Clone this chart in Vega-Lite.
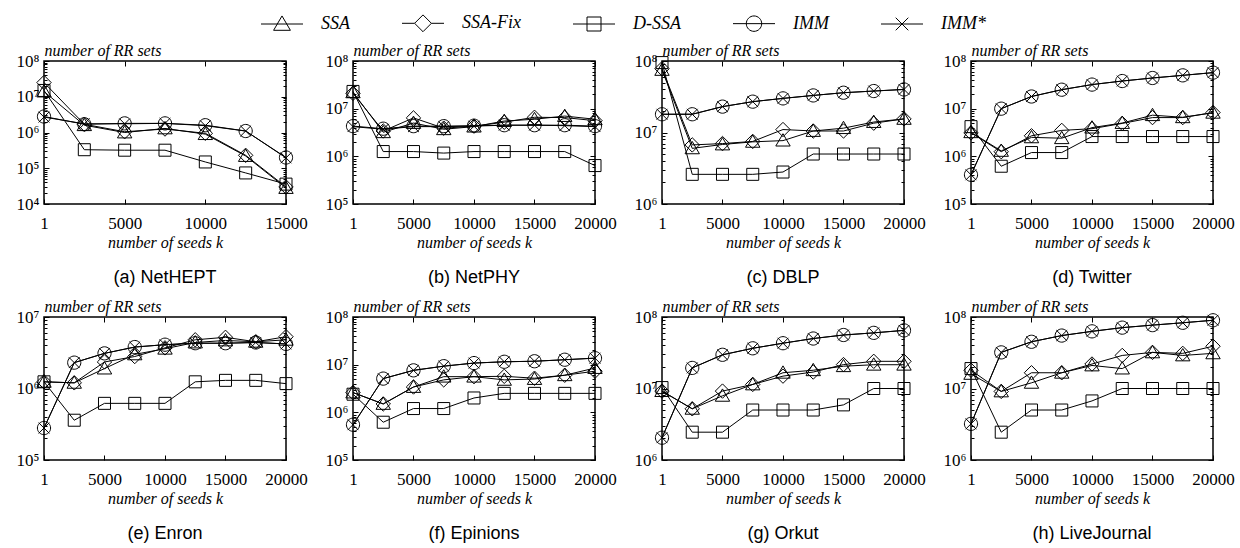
{
"$schema": "https://vega.github.io/schema/vega-lite/v6.json",
"background": "white",
"padding": {"left": 15, "top": 14, "right": 5, "bottom": 0},
"autosize": {"type": "pad"},
"datasets": {"rr": [
{"p":"a","k":1,"s":"SSA","v":1.4e7},{"p":"a","k":2500,"s":"SSA","v":1.6e6},{"p":"a","k":5000,"s":"SSA","v":1.0e6},{"p":"a","k":7500,"s":"SSA","v":1.3e6},{"p":"a","k":10000,"s":"SSA","v":9.0e5},{"p":"a","k":12500,"s":"SSA","v":2.2e5},{"p":"a","k":15000,"s":"SSA","v":2.8e4},
{"p":"a","k":1,"s":"SSA-Fix","v":2.5e7},{"p":"a","k":2500,"s":"SSA-Fix","v":1.7e6},{"p":"a","k":5000,"s":"SSA-Fix","v":1.05e6},{"p":"a","k":7500,"s":"SSA-Fix","v":1.25e6},{"p":"a","k":10000,"s":"SSA-Fix","v":9.5e5},{"p":"a","k":12500,"s":"SSA-Fix","v":2.3e5},{"p":"a","k":15000,"s":"SSA-Fix","v":3.0e4},
{"p":"a","k":1,"s":"D-SSA","v":1.5e7},{"p":"a","k":2500,"s":"D-SSA","v":3.3e5},{"p":"a","k":5000,"s":"D-SSA","v":3.2e5},{"p":"a","k":7500,"s":"D-SSA","v":3.2e5},{"p":"a","k":10000,"s":"D-SSA","v":1.5e5},{"p":"a","k":12500,"s":"D-SSA","v":7.4e4},{"p":"a","k":15000,"s":"D-SSA","v":3.6e4},
{"p":"a","k":1,"s":"IMM","v":2.8e6},{"p":"a","k":2500,"s":"IMM","v":1.7e6},{"p":"a","k":5000,"s":"IMM","v":1.8e6},{"p":"a","k":7500,"s":"IMM","v":1.8e6},{"p":"a","k":10000,"s":"IMM","v":1.6e6},{"p":"a","k":12500,"s":"IMM","v":1.1e6},{"p":"a","k":15000,"s":"IMM","v":2.0e5},
{"p":"a","k":1,"s":"IMM*","v":2.7e6},{"p":"a","k":2500,"s":"IMM*","v":1.75e6},{"p":"a","k":5000,"s":"IMM*","v":1.75e6},{"p":"a","k":7500,"s":"IMM*","v":1.8e6},{"p":"a","k":10000,"s":"IMM*","v":1.55e6},{"p":"a","k":12500,"s":"IMM*","v":1.1e6},{"p":"a","k":15000,"s":"IMM*","v":1.95e5},
{"p":"b","k":1,"s":"SSA","v":2.2e7},{"p":"b","k":2500,"s":"SSA","v":3.2e6},{"p":"b","k":5000,"s":"SSA","v":5.0e6},{"p":"b","k":7500,"s":"SSA","v":3.7e6},{"p":"b","k":10000,"s":"SSA","v":4.2e6},{"p":"b","k":12500,"s":"SSA","v":5.5e6},{"p":"b","k":15000,"s":"SSA","v":6.0e6},{"p":"b","k":17500,"s":"SSA","v":7.0e6},{"p":"b","k":20000,"s":"SSA","v":6.0e6},
{"p":"b","k":1,"s":"SSA-Fix","v":2.1e7},{"p":"b","k":2500,"s":"SSA-Fix","v":3.4e6},{"p":"b","k":5000,"s":"SSA-Fix","v":6.4e6},{"p":"b","k":7500,"s":"SSA-Fix","v":3.9e6},{"p":"b","k":10000,"s":"SSA-Fix","v":4.3e6},{"p":"b","k":12500,"s":"SSA-Fix","v":5.2e6},{"p":"b","k":15000,"s":"SSA-Fix","v":6.6e6},{"p":"b","k":17500,"s":"SSA-Fix","v":6.5e6},{"p":"b","k":20000,"s":"SSA-Fix","v":5.6e6},
{"p":"b","k":1,"s":"D-SSA","v":2.3e7},{"p":"b","k":2500,"s":"D-SSA","v":1.26e6},{"p":"b","k":5000,"s":"D-SSA","v":1.26e6},{"p":"b","k":7500,"s":"D-SSA","v":1.17e6},{"p":"b","k":10000,"s":"D-SSA","v":1.26e6},{"p":"b","k":12500,"s":"D-SSA","v":1.26e6},{"p":"b","k":15000,"s":"D-SSA","v":1.26e6},{"p":"b","k":17500,"s":"D-SSA","v":1.26e6},{"p":"b","k":20000,"s":"D-SSA","v":6.4e5},
{"p":"b","k":1,"s":"IMM","v":4.3e6},{"p":"b","k":2500,"s":"IMM","v":3.8e6},{"p":"b","k":5000,"s":"IMM","v":4.3e6},{"p":"b","k":7500,"s":"IMM","v":4.3e6},{"p":"b","k":10000,"s":"IMM","v":4.4e6},{"p":"b","k":12500,"s":"IMM","v":4.5e6},{"p":"b","k":15000,"s":"IMM","v":4.5e6},{"p":"b","k":17500,"s":"IMM","v":4.5e6},{"p":"b","k":20000,"s":"IMM","v":4.3e6},
{"p":"b","k":1,"s":"IMM*","v":4.2e6},{"p":"b","k":2500,"s":"IMM*","v":3.7e6},{"p":"b","k":5000,"s":"IMM*","v":4.2e6},{"p":"b","k":7500,"s":"IMM*","v":4.2e6},{"p":"b","k":10000,"s":"IMM*","v":4.3e6},{"p":"b","k":12500,"s":"IMM*","v":4.5e6},{"p":"b","k":15000,"s":"IMM*","v":4.5e6},{"p":"b","k":17500,"s":"IMM*","v":4.4e6},{"p":"b","k":20000,"s":"IMM*","v":4.2e6},
{"p":"c","k":1,"s":"SSA","v":7.5e7},{"p":"c","k":2500,"s":"SSA","v":6.0e6},{"p":"c","k":5000,"s":"SSA","v":6.8e6},{"p":"c","k":7500,"s":"SSA","v":7.4e6},{"p":"c","k":10000,"s":"SSA","v":7.7e6},{"p":"c","k":12500,"s":"SSA","v":1.05e7},{"p":"c","k":15000,"s":"SSA","v":1.15e7},{"p":"c","k":17500,"s":"SSA","v":1.4e7},{"p":"c","k":20000,"s":"SSA","v":1.55e7},
{"p":"c","k":1,"s":"SSA-Fix","v":7.8e7},{"p":"c","k":2500,"s":"SSA-Fix","v":6.7e6},{"p":"c","k":5000,"s":"SSA-Fix","v":7.0e6},{"p":"c","k":7500,"s":"SSA-Fix","v":7.5e6},{"p":"c","k":10000,"s":"SSA-Fix","v":1.1e7},{"p":"c","k":12500,"s":"SSA-Fix","v":1.05e7},{"p":"c","k":15000,"s":"SSA-Fix","v":1.05e7},{"p":"c","k":17500,"s":"SSA-Fix","v":1.35e7},{"p":"c","k":20000,"s":"SSA-Fix","v":1.55e7},
{"p":"c","k":1,"s":"D-SSA","v":9.5e7},{"p":"c","k":2500,"s":"D-SSA","v":2.6e6},{"p":"c","k":5000,"s":"D-SSA","v":2.6e6},{"p":"c","k":7500,"s":"D-SSA","v":2.6e6},{"p":"c","k":10000,"s":"D-SSA","v":2.8e6},{"p":"c","k":12500,"s":"D-SSA","v":5.0e6},{"p":"c","k":15000,"s":"D-SSA","v":5.0e6},{"p":"c","k":17500,"s":"D-SSA","v":5.0e6},{"p":"c","k":20000,"s":"D-SSA","v":5.0e6},
{"p":"c","k":1,"s":"IMM","v":1.8e7},{"p":"c","k":2500,"s":"IMM","v":1.8e7},{"p":"c","k":5000,"s":"IMM","v":2.3e7},{"p":"c","k":7500,"s":"IMM","v":2.7e7},{"p":"c","k":10000,"s":"IMM","v":3.0e7},{"p":"c","k":12500,"s":"IMM","v":3.3e7},{"p":"c","k":15000,"s":"IMM","v":3.6e7},{"p":"c","k":17500,"s":"IMM","v":3.8e7},{"p":"c","k":20000,"s":"IMM","v":4.0e7},
{"p":"c","k":1,"s":"IMM*","v":1.8e7},{"p":"c","k":2500,"s":"IMM*","v":1.8e7},{"p":"c","k":5000,"s":"IMM*","v":2.3e7},{"p":"c","k":7500,"s":"IMM*","v":2.7e7},{"p":"c","k":10000,"s":"IMM*","v":3.0e7},{"p":"c","k":12500,"s":"IMM*","v":3.3e7},{"p":"c","k":15000,"s":"IMM*","v":3.6e7},{"p":"c","k":17500,"s":"IMM*","v":3.8e7},{"p":"c","k":20000,"s":"IMM*","v":4.0e7},
{"p":"d","k":1,"s":"SSA","v":3.2e6},{"p":"d","k":2500,"s":"SSA","v":1.3e6},{"p":"d","k":5000,"s":"SSA","v":2.5e6},{"p":"d","k":7500,"s":"SSA","v":2.4e6},{"p":"d","k":10000,"s":"SSA","v":4.0e6},{"p":"d","k":12500,"s":"SSA","v":5.0e6},{"p":"d","k":15000,"s":"SSA","v":7.3e6},{"p":"d","k":17500,"s":"SSA","v":6.6e6},{"p":"d","k":20000,"s":"SSA","v":8.2e6},
{"p":"d","k":1,"s":"SSA-Fix","v":3.1e6},{"p":"d","k":2500,"s":"SSA-Fix","v":1.25e6},{"p":"d","k":5000,"s":"SSA-Fix","v":2.7e6},{"p":"d","k":7500,"s":"SSA-Fix","v":3.5e6},{"p":"d","k":10000,"s":"SSA-Fix","v":3.8e6},{"p":"d","k":12500,"s":"SSA-Fix","v":4.9e6},{"p":"d","k":15000,"s":"SSA-Fix","v":6.5e6},{"p":"d","k":17500,"s":"SSA-Fix","v":6.5e6},{"p":"d","k":20000,"s":"SSA-Fix","v":8.3e6},
{"p":"d","k":1,"s":"D-SSA","v":4.2e6},{"p":"d","k":2500,"s":"D-SSA","v":6.2e5},{"p":"d","k":5000,"s":"D-SSA","v":1.2e6},{"p":"d","k":7500,"s":"D-SSA","v":1.2e6},{"p":"d","k":10000,"s":"D-SSA","v":2.6e6},{"p":"d","k":12500,"s":"D-SSA","v":2.6e6},{"p":"d","k":15000,"s":"D-SSA","v":2.6e6},{"p":"d","k":17500,"s":"D-SSA","v":2.6e6},{"p":"d","k":20000,"s":"D-SSA","v":2.6e6},
{"p":"d","k":1,"s":"IMM","v":4.1e5},{"p":"d","k":2500,"s":"IMM","v":1.0e7},{"p":"d","k":5000,"s":"IMM","v":1.8e7},{"p":"d","k":7500,"s":"IMM","v":2.5e7},{"p":"d","k":10000,"s":"IMM","v":3.2e7},{"p":"d","k":12500,"s":"IMM","v":3.8e7},{"p":"d","k":15000,"s":"IMM","v":4.4e7},{"p":"d","k":17500,"s":"IMM","v":5.0e7},{"p":"d","k":20000,"s":"IMM","v":5.7e7},
{"p":"d","k":1,"s":"IMM*","v":4.1e5},{"p":"d","k":2500,"s":"IMM*","v":1.0e7},{"p":"d","k":5000,"s":"IMM*","v":1.8e7},{"p":"d","k":7500,"s":"IMM*","v":2.5e7},{"p":"d","k":10000,"s":"IMM*","v":3.2e7},{"p":"d","k":12500,"s":"IMM*","v":3.8e7},{"p":"d","k":15000,"s":"IMM*","v":4.4e7},{"p":"d","k":17500,"s":"IMM*","v":5.0e7},{"p":"d","k":20000,"s":"IMM*","v":5.7e7},
{"p":"e","k":1,"s":"SSA","v":1.24e6},{"p":"e","k":2500,"s":"SSA","v":1.2e6},{"p":"e","k":5000,"s":"SSA","v":1.9e6},{"p":"e","k":7500,"s":"SSA","v":3.0e6},{"p":"e","k":10000,"s":"SSA","v":3.6e6},{"p":"e","k":12500,"s":"SSA","v":4.4e6},{"p":"e","k":15000,"s":"SSA","v":4.7e6},{"p":"e","k":17500,"s":"SSA","v":4.5e6},{"p":"e","k":20000,"s":"SSA","v":4.8e6},
{"p":"e","k":1,"s":"SSA-Fix","v":1.24e6},{"p":"e","k":2500,"s":"SSA-Fix","v":1.2e6},{"p":"e","k":5000,"s":"SSA-Fix","v":2.35e6},{"p":"e","k":7500,"s":"SSA-Fix","v":2.8e6},{"p":"e","k":10000,"s":"SSA-Fix","v":3.7e6},{"p":"e","k":12500,"s":"SSA-Fix","v":4.8e6},{"p":"e","k":15000,"s":"SSA-Fix","v":5.2e6},{"p":"e","k":17500,"s":"SSA-Fix","v":4.5e6},{"p":"e","k":20000,"s":"SSA-Fix","v":5.3e6},
{"p":"e","k":1,"s":"D-SSA","v":1.24e6},{"p":"e","k":2500,"s":"D-SSA","v":3.6e5},{"p":"e","k":5000,"s":"D-SSA","v":6.2e5},{"p":"e","k":7500,"s":"D-SSA","v":6.2e5},{"p":"e","k":10000,"s":"D-SSA","v":6.2e5},{"p":"e","k":12500,"s":"D-SSA","v":1.24e6},{"p":"e","k":15000,"s":"D-SSA","v":1.3e6},{"p":"e","k":17500,"s":"D-SSA","v":1.3e6},{"p":"e","k":20000,"s":"D-SSA","v":1.17e6},
{"p":"e","k":1,"s":"IMM","v":2.8e5},{"p":"e","k":2500,"s":"IMM","v":2.3e6},{"p":"e","k":5000,"s":"IMM","v":3.1e6},{"p":"e","k":7500,"s":"IMM","v":3.8e6},{"p":"e","k":10000,"s":"IMM","v":4.1e6},{"p":"e","k":12500,"s":"IMM","v":4.3e6},{"p":"e","k":15000,"s":"IMM","v":4.3e6},{"p":"e","k":17500,"s":"IMM","v":4.4e6},{"p":"e","k":20000,"s":"IMM","v":4.2e6},
{"p":"e","k":1,"s":"IMM*","v":2.8e5},{"p":"e","k":2500,"s":"IMM*","v":2.3e6},{"p":"e","k":5000,"s":"IMM*","v":3.1e6},{"p":"e","k":7500,"s":"IMM*","v":3.8e6},{"p":"e","k":10000,"s":"IMM*","v":4.1e6},{"p":"e","k":12500,"s":"IMM*","v":4.3e6},{"p":"e","k":15000,"s":"IMM*","v":4.3e6},{"p":"e","k":17500,"s":"IMM*","v":4.4e6},{"p":"e","k":20000,"s":"IMM*","v":4.2e6},
{"p":"f","k":1,"s":"SSA","v":2.6e6},{"p":"f","k":2500,"s":"SSA","v":1.5e6},{"p":"f","k":5000,"s":"SSA","v":3.4e6},{"p":"f","k":7500,"s":"SSA","v":5.6e6},{"p":"f","k":10000,"s":"SSA","v":5.6e6},{"p":"f","k":12500,"s":"SSA","v":4.8e6},{"p":"f","k":15000,"s":"SSA","v":5.0e6},{"p":"f","k":17500,"s":"SSA","v":6.0e6},{"p":"f","k":20000,"s":"SSA","v":8.5e6},
{"p":"f","k":1,"s":"SSA-Fix","v":2.6e6},{"p":"f","k":2500,"s":"SSA-Fix","v":1.5e6},{"p":"f","k":5000,"s":"SSA-Fix","v":3.4e6},{"p":"f","k":7500,"s":"SSA-Fix","v":4.8e6},{"p":"f","k":10000,"s":"SSA-Fix","v":5.6e6},{"p":"f","k":12500,"s":"SSA-Fix","v":5.7e6},{"p":"f","k":15000,"s":"SSA-Fix","v":5.2e6},{"p":"f","k":17500,"s":"SSA-Fix","v":6.0e6},{"p":"f","k":20000,"s":"SSA-Fix","v":7.3e6},
{"p":"f","k":1,"s":"D-SSA","v":2.4e6},{"p":"f","k":2500,"s":"D-SSA","v":6.2e5},{"p":"f","k":5000,"s":"D-SSA","v":1.2e6},{"p":"f","k":7500,"s":"D-SSA","v":1.2e6},{"p":"f","k":10000,"s":"D-SSA","v":2.0e6},{"p":"f","k":12500,"s":"D-SSA","v":2.5e6},{"p":"f","k":15000,"s":"D-SSA","v":2.5e6},{"p":"f","k":17500,"s":"D-SSA","v":2.5e6},{"p":"f","k":20000,"s":"D-SSA","v":2.5e6},
{"p":"f","k":1,"s":"IMM","v":5.5e5},{"p":"f","k":2500,"s":"IMM","v":5.1e6},{"p":"f","k":5000,"s":"IMM","v":7.6e6},{"p":"f","k":7500,"s":"IMM","v":9.3e6},{"p":"f","k":10000,"s":"IMM","v":1.08e7},{"p":"f","k":12500,"s":"IMM","v":1.15e7},{"p":"f","k":15000,"s":"IMM","v":1.18e7},{"p":"f","k":17500,"s":"IMM","v":1.27e7},{"p":"f","k":20000,"s":"IMM","v":1.37e7},
{"p":"f","k":1,"s":"IMM*","v":5.5e5},{"p":"f","k":2500,"s":"IMM*","v":5.1e6},{"p":"f","k":5000,"s":"IMM*","v":7.6e6},{"p":"f","k":7500,"s":"IMM*","v":9.3e6},{"p":"f","k":10000,"s":"IMM*","v":1.08e7},{"p":"f","k":12500,"s":"IMM*","v":1.15e7},{"p":"f","k":15000,"s":"IMM*","v":1.18e7},{"p":"f","k":17500,"s":"IMM*","v":1.27e7},{"p":"f","k":20000,"s":"IMM*","v":1.37e7},
{"p":"g","k":1,"s":"SSA","v":9.2e6},{"p":"g","k":2500,"s":"SSA","v":5.2e6},{"p":"g","k":5000,"s":"SSA","v":7.9e6},{"p":"g","k":7500,"s":"SSA","v":1.14e7},{"p":"g","k":10000,"s":"SSA","v":1.66e7},{"p":"g","k":12500,"s":"SSA","v":1.8e7},{"p":"g","k":15000,"s":"SSA","v":2.05e7},{"p":"g","k":17500,"s":"SSA","v":2.15e7},{"p":"g","k":20000,"s":"SSA","v":2.15e7},
{"p":"g","k":1,"s":"SSA-Fix","v":9.2e6},{"p":"g","k":2500,"s":"SSA-Fix","v":5.2e6},{"p":"g","k":5000,"s":"SSA-Fix","v":9.2e6},{"p":"g","k":7500,"s":"SSA-Fix","v":1.14e7},{"p":"g","k":10000,"s":"SSA-Fix","v":1.49e7},{"p":"g","k":12500,"s":"SSA-Fix","v":1.7e7},{"p":"g","k":15000,"s":"SSA-Fix","v":2.16e7},{"p":"g","k":17500,"s":"SSA-Fix","v":2.4e7},{"p":"g","k":20000,"s":"SSA-Fix","v":2.4e7},
{"p":"g","k":1,"s":"D-SSA","v":1.03e7},{"p":"g","k":2500,"s":"D-SSA","v":2.45e6},{"p":"g","k":5000,"s":"D-SSA","v":2.45e6},{"p":"g","k":7500,"s":"D-SSA","v":5.0e6},{"p":"g","k":10000,"s":"D-SSA","v":5.0e6},{"p":"g","k":12500,"s":"D-SSA","v":5.0e6},{"p":"g","k":15000,"s":"D-SSA","v":5.9e6},{"p":"g","k":17500,"s":"D-SSA","v":1.0e7},{"p":"g","k":20000,"s":"D-SSA","v":1.0e7},
{"p":"g","k":1,"s":"IMM","v":2.05e6},{"p":"g","k":2500,"s":"IMM","v":1.94e7},{"p":"g","k":5000,"s":"IMM","v":2.96e7},{"p":"g","k":7500,"s":"IMM","v":3.65e7},{"p":"g","k":10000,"s":"IMM","v":4.3e7},{"p":"g","k":12500,"s":"IMM","v":5.0e7},{"p":"g","k":15000,"s":"IMM","v":5.6e7},{"p":"g","k":17500,"s":"IMM","v":6.0e7},{"p":"g","k":20000,"s":"IMM","v":6.5e7},
{"p":"g","k":1,"s":"IMM*","v":2.05e6},{"p":"g","k":2500,"s":"IMM*","v":1.94e7},{"p":"g","k":5000,"s":"IMM*","v":2.96e7},{"p":"g","k":7500,"s":"IMM*","v":3.65e7},{"p":"g","k":10000,"s":"IMM*","v":4.3e7},{"p":"g","k":12500,"s":"IMM*","v":5.0e7},{"p":"g","k":15000,"s":"IMM*","v":5.6e7},{"p":"g","k":17500,"s":"IMM*","v":6.0e7},{"p":"g","k":20000,"s":"IMM*","v":6.5e7},
{"p":"h","k":1,"s":"SSA","v":1.6e7},{"p":"h","k":2500,"s":"SSA","v":9.1e6},{"p":"h","k":5000,"s":"SSA","v":1.2e7},{"p":"h","k":7500,"s":"SSA","v":1.66e7},{"p":"h","k":10000,"s":"SSA","v":2.1e7},{"p":"h","k":12500,"s":"SSA","v":1.9e7},{"p":"h","k":15000,"s":"SSA","v":3.2e7},{"p":"h","k":17500,"s":"SSA","v":2.9e7},{"p":"h","k":20000,"s":"SSA","v":3.1e7},
{"p":"h","k":1,"s":"SSA-Fix","v":1.8e7},{"p":"h","k":2500,"s":"SSA-Fix","v":9.1e6},{"p":"h","k":5000,"s":"SSA-Fix","v":1.66e7},{"p":"h","k":7500,"s":"SSA-Fix","v":1.66e7},{"p":"h","k":10000,"s":"SSA-Fix","v":2.2e7},{"p":"h","k":12500,"s":"SSA-Fix","v":2.9e7},{"p":"h","k":15000,"s":"SSA-Fix","v":3.2e7},{"p":"h","k":17500,"s":"SSA-Fix","v":3.1e7},{"p":"h","k":20000,"s":"SSA-Fix","v":3.9e7},
{"p":"h","k":1,"s":"D-SSA","v":1.9e7},{"p":"h","k":2500,"s":"D-SSA","v":2.45e6},{"p":"h","k":5000,"s":"D-SSA","v":5.0e6},{"p":"h","k":7500,"s":"D-SSA","v":5.0e6},{"p":"h","k":10000,"s":"D-SSA","v":6.7e6},{"p":"h","k":12500,"s":"D-SSA","v":1.0e7},{"p":"h","k":15000,"s":"D-SSA","v":1.0e7},{"p":"h","k":17500,"s":"D-SSA","v":1.0e7},{"p":"h","k":20000,"s":"D-SSA","v":1.0e7},
{"p":"h","k":1,"s":"IMM","v":3.2e6},{"p":"h","k":2500,"s":"IMM","v":3.2e7},{"p":"h","k":5000,"s":"IMM","v":4.5e7},{"p":"h","k":7500,"s":"IMM","v":5.5e7},{"p":"h","k":10000,"s":"IMM","v":6.3e7},{"p":"h","k":12500,"s":"IMM","v":7.1e7},{"p":"h","k":15000,"s":"IMM","v":7.7e7},{"p":"h","k":17500,"s":"IMM","v":8.3e7},{"p":"h","k":20000,"s":"IMM","v":9.0e7},
{"p":"h","k":1,"s":"IMM*","v":3.2e6},{"p":"h","k":2500,"s":"IMM*","v":3.2e7},{"p":"h","k":5000,"s":"IMM*","v":4.5e7},{"p":"h","k":7500,"s":"IMM*","v":5.5e7},{"p":"h","k":10000,"s":"IMM*","v":6.3e7},{"p":"h","k":12500,"s":"IMM*","v":7.1e7},{"p":"h","k":15000,"s":"IMM*","v":7.7e7},{"p":"h","k":17500,"s":"IMM*","v":8.3e7},{"p":"h","k":20000,"s":"IMM*","v":9.0e7}
]},
"data": {"name": "rr"},
"columns": 4,
"spacing": {"row": 113, "column": 67},
"bounds": "flush",
"concat": [
{"width":242,"height":143,"title":"(a) NetHEPT","transform":[{"filter":"datum.p==='a'"}],
"layer":[
{"mark":{"type":"line","color":"black","strokeWidth":1},"encoding":{
"x":{"field":"k","type":"quantitative","scale":{"domain":[1,15000],"nice":false,"zero":false},"axis":{"orient":"bottom","values":[1,5000,10000,15000],"format":"d","ticks":false,"labelPadding":11,"title":"number of seeds k","titlePadding":3}},
"y":{"field":"v","type":"quantitative","scale":{"type":"log","domain":[1e4,1e8],"nice":false},"axis":{"orient":"left","values":[1e4,1e5,1e6,1e7,1e8],"ticks":false,"labelPadding":5,"labelExpr":"'10'+['⁰','¹','²','³','⁴','⁵','⁶','⁷','⁸','⁹'][round(log(datum.value)/LN10)]","title":"number of RR sets","titleAngle":0,"titleAlign":"left","titleBaseline":"alphabetic","titleX":0,"titleY":-6}},
"color":{"field":"s","type":"nominal","scale":{"domain":["SSA","SSA-Fix","D-SSA","IMM","IMM*"],"range":["black","black","black","black","black"]},
"legend":{"orient":"none","legendX":229,"legendY":-47,"direction":"horizontal","title":null,"padding":0,"symbolSize":196,"symbolStrokeWidth":1,"symbolFillColor":"transparent","labelFont":"Liberation Serif","labelFontStyle":"italic","labelFontSize":18,"labelColor":"black","labelOffset":30,"columnPadding":50,"encode":{"symbols":{"update":{"shape":{"signal":"datum.value === 'SSA' ? 'M-3,0H3M0,-1.15L1.2,0.9H-1.2Z' : datum.value === 'SSA-Fix' ? 'M-3,0H-1.2M1.2,0H3M0,-1.2L1.2,0L0,1.2L-1.2,0Z' : datum.value === 'D-SSA' ? 'M-3,0H3M-1,-1H1V1H-1Z' : datum.value === 'IMM' ? 'M-3,0H3M1.1,0A1.1,1.1 0 1 1 -1.1,0A1.1,1.1 0 1 1 1.1,0Z' : 'M-3,0H3M-0.9,-0.9L0.9,0.9M-0.9,0.9L0.9,-0.9'"},"fill":{"value":"transparent"}}}}}}}},
{"mark":{"type":"point","filled":false,"color":"black","strokeWidth":1,"size":144,"opacity":1},"encoding":{
"x":{"field":"k","type":"quantitative","axis":{"orient":"top","values":[1,5000,10000,15000],"labels":false,"title":null,"tickSize":-5}},
"y":{"field":"v","type":"quantitative","axis":{"orient":"right","values":[1e4,1e5,1e6,1e7,1e8],"labels":false,"title":null,"tickSize":-5}},
"shape":{"field":"s","type":"nominal","scale":{"domain":["D-SSA","IMM","IMM*","SSA","SSA-Fix"],"range":["M-1,-1H1V1H-1Z","M1.1,0A1.1,1.1 0 1 1 -1.1,0A1.1,1.1 0 1 1 1.1,0Z","M-0.9,-0.9L0.9,0.9M-0.9,0.9L0.9,-0.9","M0,-1.15L1.2,0.9H-1.2Z","M0,-1.2L1.2,0L0,1.2L-1.2,0Z"]},"legend":null}}},
{"mark":{"type":"point","opacity":0},"encoding":{
"x":{"field":"k","type":"quantitative","axis":{"orient":"bottom","values":[1,5000,10000,15000],"labels":false,"title":null,"tickSize":-5}},
"y":{"field":"v","type":"quantitative","axis":{"orient":"left","values":[1e4,1e5,1e6,1e7,1e8],"labels":false,"title":null,"tickSize":-5}}}},
{"mark":{"type":"point","opacity":0},"encoding":{
"x":{"field":"k","type":"quantitative","axis":null},
"y":{"field":"v","type":"quantitative","axis":{"orient":"left","values":[2e4,3e4,4e4,5e4,6e4,7e4,8e4,9e4,2e5,3e5,4e5,5e5,6e5,7e5,8e5,9e5,2e6,3e6,4e6,5e6,6e6,7e6,8e6,9e6,2e7,3e7,4e7,5e7,6e7,7e7,8e7,9e7],"labels":false,"title":null,"tickSize":-3}}}},
{"mark":{"type":"point","opacity":0},"encoding":{
"x":{"field":"k","type":"quantitative","axis":null},
"y":{"field":"v","type":"quantitative","axis":{"orient":"right","values":[2e4,3e4,4e4,5e4,6e4,7e4,8e4,9e4,2e5,3e5,4e5,5e5,6e5,7e5,8e5,9e5,2e6,3e6,4e6,5e6,6e6,7e6,8e6,9e6,2e7,3e7,4e7,5e7,6e7,7e7,8e7,9e7],"labels":false,"title":null,"tickSize":-3}}}}
],
"resolve":{"axis":{"x":"independent","y":"independent"}}},

{"width":242,"height":143,"title":"(b) NetPHY","transform":[{"filter":"datum.p==='b'"}],
"layer":[
{"mark":{"type":"line","color":"black","strokeWidth":1},"encoding":{
"x":{"field":"k","type":"quantitative","scale":{"domain":[1,20000],"nice":false,"zero":false},"axis":{"orient":"bottom","values":[1,5000,10000,15000,20000],"format":"d","ticks":false,"labelPadding":11,"title":"number of seeds k","titlePadding":3}},
"y":{"field":"v","type":"quantitative","scale":{"type":"log","domain":[1e5,1e8],"nice":false},"axis":{"orient":"left","values":[1e5,1e6,1e7,1e8],"ticks":false,"labelPadding":5,"labelExpr":"'10'+['⁰','¹','²','³','⁴','⁵','⁶','⁷','⁸','⁹'][round(log(datum.value)/LN10)]","title":"number of RR sets","titleAngle":0,"titleAlign":"left","titleBaseline":"alphabetic","titleX":0,"titleY":-6}},
"detail":{"field":"s"}}},
{"mark":{"type":"point","filled":false,"color":"black","strokeWidth":1,"size":144,"opacity":1},"encoding":{
"x":{"field":"k","type":"quantitative","axis":{"orient":"top","values":[1,5000,10000,15000,20000],"labels":false,"title":null,"tickSize":-5}},
"y":{"field":"v","type":"quantitative","axis":{"orient":"right","values":[1e5,1e6,1e7,1e8],"labels":false,"title":null,"tickSize":-5}},
"shape":{"field":"s","type":"nominal","scale":{"domain":["D-SSA","IMM","IMM*","SSA","SSA-Fix"],"range":["M-1,-1H1V1H-1Z","M1.1,0A1.1,1.1 0 1 1 -1.1,0A1.1,1.1 0 1 1 1.1,0Z","M-0.9,-0.9L0.9,0.9M-0.9,0.9L0.9,-0.9","M0,-1.15L1.2,0.9H-1.2Z","M0,-1.2L1.2,0L0,1.2L-1.2,0Z"]},"legend":null}}},
{"mark":{"type":"point","opacity":0},"encoding":{
"x":{"field":"k","type":"quantitative","axis":{"orient":"bottom","values":[1,5000,10000,15000,20000],"labels":false,"title":null,"tickSize":-5}},
"y":{"field":"v","type":"quantitative","axis":{"orient":"left","values":[1e5,1e6,1e7,1e8],"labels":false,"title":null,"tickSize":-5}}}},
{"mark":{"type":"point","opacity":0},"encoding":{
"x":{"field":"k","type":"quantitative","axis":null},
"y":{"field":"v","type":"quantitative","axis":{"orient":"left","values":[2e5,3e5,4e5,5e5,6e5,7e5,8e5,9e5,2e6,3e6,4e6,5e6,6e6,7e6,8e6,9e6,2e7,3e7,4e7,5e7,6e7,7e7,8e7,9e7],"labels":false,"title":null,"tickSize":-3}}}},
{"mark":{"type":"point","opacity":0},"encoding":{
"x":{"field":"k","type":"quantitative","axis":null},
"y":{"field":"v","type":"quantitative","axis":{"orient":"right","values":[2e5,3e5,4e5,5e5,6e5,7e5,8e5,9e5,2e6,3e6,4e6,5e6,6e6,7e6,8e6,9e6,2e7,3e7,4e7,5e7,6e7,7e7,8e7,9e7],"labels":false,"title":null,"tickSize":-3}}}}
],
"resolve":{"axis":{"x":"independent","y":"independent"}}},

{"width":242,"height":143,"title":"(c) DBLP","transform":[{"filter":"datum.p==='c'"}],
"layer":[
{"mark":{"type":"line","color":"black","strokeWidth":1},"encoding":{
"x":{"field":"k","type":"quantitative","scale":{"domain":[1,20000],"nice":false,"zero":false},"axis":{"orient":"bottom","values":[1,5000,10000,15000,20000],"format":"d","ticks":false,"labelPadding":11,"title":"number of seeds k","titlePadding":3}},
"y":{"field":"v","type":"quantitative","scale":{"type":"log","domain":[1e6,1e8],"nice":false},"axis":{"orient":"left","values":[1e6,1e7,1e8],"ticks":false,"labelPadding":5,"labelExpr":"'10'+['⁰','¹','²','³','⁴','⁵','⁶','⁷','⁸','⁹'][round(log(datum.value)/LN10)]","title":"number of RR sets","titleAngle":0,"titleAlign":"left","titleBaseline":"alphabetic","titleX":0,"titleY":-6}},
"detail":{"field":"s"}}},
{"mark":{"type":"point","filled":false,"color":"black","strokeWidth":1,"size":144,"opacity":1},"encoding":{
"x":{"field":"k","type":"quantitative","axis":{"orient":"top","values":[1,5000,10000,15000,20000],"labels":false,"title":null,"tickSize":-5}},
"y":{"field":"v","type":"quantitative","axis":{"orient":"right","values":[1e6,1e7,1e8],"labels":false,"title":null,"tickSize":-5}},
"shape":{"field":"s","type":"nominal","scale":{"domain":["D-SSA","IMM","IMM*","SSA","SSA-Fix"],"range":["M-1,-1H1V1H-1Z","M1.1,0A1.1,1.1 0 1 1 -1.1,0A1.1,1.1 0 1 1 1.1,0Z","M-0.9,-0.9L0.9,0.9M-0.9,0.9L0.9,-0.9","M0,-1.15L1.2,0.9H-1.2Z","M0,-1.2L1.2,0L0,1.2L-1.2,0Z"]},"legend":null}}},
{"mark":{"type":"point","opacity":0},"encoding":{
"x":{"field":"k","type":"quantitative","axis":{"orient":"bottom","values":[1,5000,10000,15000,20000],"labels":false,"title":null,"tickSize":-5}},
"y":{"field":"v","type":"quantitative","axis":{"orient":"left","values":[1e6,1e7,1e8],"labels":false,"title":null,"tickSize":-5}}}},
{"mark":{"type":"point","opacity":0},"encoding":{
"x":{"field":"k","type":"quantitative","axis":null},
"y":{"field":"v","type":"quantitative","axis":{"orient":"left","values":[2e6,3e6,4e6,5e6,6e6,7e6,8e6,9e6,2e7,3e7,4e7,5e7,6e7,7e7,8e7,9e7],"labels":false,"title":null,"tickSize":-3}}}},
{"mark":{"type":"point","opacity":0},"encoding":{
"x":{"field":"k","type":"quantitative","axis":null},
"y":{"field":"v","type":"quantitative","axis":{"orient":"right","values":[2e6,3e6,4e6,5e6,6e6,7e6,8e6,9e6,2e7,3e7,4e7,5e7,6e7,7e7,8e7,9e7],"labels":false,"title":null,"tickSize":-3}}}}
],
"resolve":{"axis":{"x":"independent","y":"independent"}}},

{"width":242,"height":143,"title":"(d) Twitter","transform":[{"filter":"datum.p==='d'"}],
"layer":[
{"mark":{"type":"line","color":"black","strokeWidth":1},"encoding":{
"x":{"field":"k","type":"quantitative","scale":{"domain":[1,20000],"nice":false,"zero":false},"axis":{"orient":"bottom","values":[1,5000,10000,15000,20000],"format":"d","ticks":false,"labelPadding":11,"title":"number of seeds k","titlePadding":3}},
"y":{"field":"v","type":"quantitative","scale":{"type":"log","domain":[1e5,1e8],"nice":false},"axis":{"orient":"left","values":[1e5,1e6,1e7,1e8],"ticks":false,"labelPadding":5,"labelExpr":"'10'+['⁰','¹','²','³','⁴','⁵','⁶','⁷','⁸','⁹'][round(log(datum.value)/LN10)]","title":"number of RR sets","titleAngle":0,"titleAlign":"left","titleBaseline":"alphabetic","titleX":0,"titleY":-6}},
"detail":{"field":"s"}}},
{"mark":{"type":"point","filled":false,"color":"black","strokeWidth":1,"size":144,"opacity":1},"encoding":{
"x":{"field":"k","type":"quantitative","axis":{"orient":"top","values":[1,5000,10000,15000,20000],"labels":false,"title":null,"tickSize":-5}},
"y":{"field":"v","type":"quantitative","axis":{"orient":"right","values":[1e5,1e6,1e7,1e8],"labels":false,"title":null,"tickSize":-5}},
"shape":{"field":"s","type":"nominal","scale":{"domain":["D-SSA","IMM","IMM*","SSA","SSA-Fix"],"range":["M-1,-1H1V1H-1Z","M1.1,0A1.1,1.1 0 1 1 -1.1,0A1.1,1.1 0 1 1 1.1,0Z","M-0.9,-0.9L0.9,0.9M-0.9,0.9L0.9,-0.9","M0,-1.15L1.2,0.9H-1.2Z","M0,-1.2L1.2,0L0,1.2L-1.2,0Z"]},"legend":null}}},
{"mark":{"type":"point","opacity":0},"encoding":{
"x":{"field":"k","type":"quantitative","axis":{"orient":"bottom","values":[1,5000,10000,15000,20000],"labels":false,"title":null,"tickSize":-5}},
"y":{"field":"v","type":"quantitative","axis":{"orient":"left","values":[1e5,1e6,1e7,1e8],"labels":false,"title":null,"tickSize":-5}}}},
{"mark":{"type":"point","opacity":0},"encoding":{
"x":{"field":"k","type":"quantitative","axis":null},
"y":{"field":"v","type":"quantitative","axis":{"orient":"left","values":[2e5,3e5,4e5,5e5,6e5,7e5,8e5,9e5,2e6,3e6,4e6,5e6,6e6,7e6,8e6,9e6,2e7,3e7,4e7,5e7,6e7,7e7,8e7,9e7],"labels":false,"title":null,"tickSize":-3}}}},
{"mark":{"type":"point","opacity":0},"encoding":{
"x":{"field":"k","type":"quantitative","axis":null},
"y":{"field":"v","type":"quantitative","axis":{"orient":"right","values":[2e5,3e5,4e5,5e5,6e5,7e5,8e5,9e5,2e6,3e6,4e6,5e6,6e6,7e6,8e6,9e6,2e7,3e7,4e7,5e7,6e7,7e7,8e7,9e7],"labels":false,"title":null,"tickSize":-3}}}}
],
"resolve":{"axis":{"x":"independent","y":"independent"}}},

{"width":242,"height":143,"title":"(e) Enron","transform":[{"filter":"datum.p==='e'"}],
"layer":[
{"mark":{"type":"line","color":"black","strokeWidth":1},"encoding":{
"x":{"field":"k","type":"quantitative","scale":{"domain":[1,20000],"nice":false,"zero":false},"axis":{"orient":"bottom","values":[1,5000,10000,15000,20000],"format":"d","ticks":false,"labelPadding":11,"title":"number of seeds k","titlePadding":3}},
"y":{"field":"v","type":"quantitative","scale":{"type":"log","domain":[1e5,1e7],"nice":false},"axis":{"orient":"left","values":[1e5,1e6,1e7],"ticks":false,"labelPadding":5,"labelExpr":"'10'+['⁰','¹','²','³','⁴','⁵','⁶','⁷','⁸','⁹'][round(log(datum.value)/LN10)]","title":"number of RR sets","titleAngle":0,"titleAlign":"left","titleBaseline":"alphabetic","titleX":0,"titleY":-6}},
"detail":{"field":"s"}}},
{"mark":{"type":"point","filled":false,"color":"black","strokeWidth":1,"size":144,"opacity":1},"encoding":{
"x":{"field":"k","type":"quantitative","axis":{"orient":"top","values":[1,5000,10000,15000,20000],"labels":false,"title":null,"tickSize":-5}},
"y":{"field":"v","type":"quantitative","axis":{"orient":"right","values":[1e5,1e6,1e7],"labels":false,"title":null,"tickSize":-5}},
"shape":{"field":"s","type":"nominal","scale":{"domain":["D-SSA","IMM","IMM*","SSA","SSA-Fix"],"range":["M-1,-1H1V1H-1Z","M1.1,0A1.1,1.1 0 1 1 -1.1,0A1.1,1.1 0 1 1 1.1,0Z","M-0.9,-0.9L0.9,0.9M-0.9,0.9L0.9,-0.9","M0,-1.15L1.2,0.9H-1.2Z","M0,-1.2L1.2,0L0,1.2L-1.2,0Z"]},"legend":null}}},
{"mark":{"type":"point","opacity":0},"encoding":{
"x":{"field":"k","type":"quantitative","axis":{"orient":"bottom","values":[1,5000,10000,15000,20000],"labels":false,"title":null,"tickSize":-5}},
"y":{"field":"v","type":"quantitative","axis":{"orient":"left","values":[1e5,1e6,1e7],"labels":false,"title":null,"tickSize":-5}}}},
{"mark":{"type":"point","opacity":0},"encoding":{
"x":{"field":"k","type":"quantitative","axis":null},
"y":{"field":"v","type":"quantitative","axis":{"orient":"left","values":[2e5,3e5,4e5,5e5,6e5,7e5,8e5,9e5,2e6,3e6,4e6,5e6,6e6,7e6,8e6,9e6],"labels":false,"title":null,"tickSize":-3}}}},
{"mark":{"type":"point","opacity":0},"encoding":{
"x":{"field":"k","type":"quantitative","axis":null},
"y":{"field":"v","type":"quantitative","axis":{"orient":"right","values":[2e5,3e5,4e5,5e5,6e5,7e5,8e5,9e5,2e6,3e6,4e6,5e6,6e6,7e6,8e6,9e6],"labels":false,"title":null,"tickSize":-3}}}}
],
"resolve":{"axis":{"x":"independent","y":"independent"}}},

{"width":242,"height":143,"title":"(f) Epinions","transform":[{"filter":"datum.p==='f'"}],
"layer":[
{"mark":{"type":"line","color":"black","strokeWidth":1},"encoding":{
"x":{"field":"k","type":"quantitative","scale":{"domain":[1,20000],"nice":false,"zero":false},"axis":{"orient":"bottom","values":[1,5000,10000,15000,20000],"format":"d","ticks":false,"labelPadding":11,"title":"number of seeds k","titlePadding":3}},
"y":{"field":"v","type":"quantitative","scale":{"type":"log","domain":[1e5,1e8],"nice":false},"axis":{"orient":"left","values":[1e5,1e6,1e7,1e8],"ticks":false,"labelPadding":5,"labelExpr":"'10'+['⁰','¹','²','³','⁴','⁵','⁶','⁷','⁸','⁹'][round(log(datum.value)/LN10)]","title":"number of RR sets","titleAngle":0,"titleAlign":"left","titleBaseline":"alphabetic","titleX":0,"titleY":-6}},
"detail":{"field":"s"}}},
{"mark":{"type":"point","filled":false,"color":"black","strokeWidth":1,"size":144,"opacity":1},"encoding":{
"x":{"field":"k","type":"quantitative","axis":{"orient":"top","values":[1,5000,10000,15000,20000],"labels":false,"title":null,"tickSize":-5}},
"y":{"field":"v","type":"quantitative","axis":{"orient":"right","values":[1e5,1e6,1e7,1e8],"labels":false,"title":null,"tickSize":-5}},
"shape":{"field":"s","type":"nominal","scale":{"domain":["D-SSA","IMM","IMM*","SSA","SSA-Fix"],"range":["M-1,-1H1V1H-1Z","M1.1,0A1.1,1.1 0 1 1 -1.1,0A1.1,1.1 0 1 1 1.1,0Z","M-0.9,-0.9L0.9,0.9M-0.9,0.9L0.9,-0.9","M0,-1.15L1.2,0.9H-1.2Z","M0,-1.2L1.2,0L0,1.2L-1.2,0Z"]},"legend":null}}},
{"mark":{"type":"point","opacity":0},"encoding":{
"x":{"field":"k","type":"quantitative","axis":{"orient":"bottom","values":[1,5000,10000,15000,20000],"labels":false,"title":null,"tickSize":-5}},
"y":{"field":"v","type":"quantitative","axis":{"orient":"left","values":[1e5,1e6,1e7,1e8],"labels":false,"title":null,"tickSize":-5}}}},
{"mark":{"type":"point","opacity":0},"encoding":{
"x":{"field":"k","type":"quantitative","axis":null},
"y":{"field":"v","type":"quantitative","axis":{"orient":"left","values":[2e5,3e5,4e5,5e5,6e5,7e5,8e5,9e5,2e6,3e6,4e6,5e6,6e6,7e6,8e6,9e6,2e7,3e7,4e7,5e7,6e7,7e7,8e7,9e7],"labels":false,"title":null,"tickSize":-3}}}},
{"mark":{"type":"point","opacity":0},"encoding":{
"x":{"field":"k","type":"quantitative","axis":null},
"y":{"field":"v","type":"quantitative","axis":{"orient":"right","values":[2e5,3e5,4e5,5e5,6e5,7e5,8e5,9e5,2e6,3e6,4e6,5e6,6e6,7e6,8e6,9e6,2e7,3e7,4e7,5e7,6e7,7e7,8e7,9e7],"labels":false,"title":null,"tickSize":-3}}}}
],
"resolve":{"axis":{"x":"independent","y":"independent"}}},

{"width":242,"height":143,"title":"(g) Orkut","transform":[{"filter":"datum.p==='g'"}],
"layer":[
{"mark":{"type":"line","color":"black","strokeWidth":1},"encoding":{
"x":{"field":"k","type":"quantitative","scale":{"domain":[1,20000],"nice":false,"zero":false},"axis":{"orient":"bottom","values":[1,5000,10000,15000,20000],"format":"d","ticks":false,"labelPadding":11,"title":"number of seeds k","titlePadding":3}},
"y":{"field":"v","type":"quantitative","scale":{"type":"log","domain":[1e6,1e8],"nice":false},"axis":{"orient":"left","values":[1e6,1e7,1e8],"ticks":false,"labelPadding":5,"labelExpr":"'10'+['⁰','¹','²','³','⁴','⁵','⁶','⁷','⁸','⁹'][round(log(datum.value)/LN10)]","title":"number of RR sets","titleAngle":0,"titleAlign":"left","titleBaseline":"alphabetic","titleX":0,"titleY":-6}},
"detail":{"field":"s"}}},
{"mark":{"type":"point","filled":false,"color":"black","strokeWidth":1,"size":144,"opacity":1},"encoding":{
"x":{"field":"k","type":"quantitative","axis":{"orient":"top","values":[1,5000,10000,15000,20000],"labels":false,"title":null,"tickSize":-5}},
"y":{"field":"v","type":"quantitative","axis":{"orient":"right","values":[1e6,1e7,1e8],"labels":false,"title":null,"tickSize":-5}},
"shape":{"field":"s","type":"nominal","scale":{"domain":["D-SSA","IMM","IMM*","SSA","SSA-Fix"],"range":["M-1,-1H1V1H-1Z","M1.1,0A1.1,1.1 0 1 1 -1.1,0A1.1,1.1 0 1 1 1.1,0Z","M-0.9,-0.9L0.9,0.9M-0.9,0.9L0.9,-0.9","M0,-1.15L1.2,0.9H-1.2Z","M0,-1.2L1.2,0L0,1.2L-1.2,0Z"]},"legend":null}}},
{"mark":{"type":"point","opacity":0},"encoding":{
"x":{"field":"k","type":"quantitative","axis":{"orient":"bottom","values":[1,5000,10000,15000,20000],"labels":false,"title":null,"tickSize":-5}},
"y":{"field":"v","type":"quantitative","axis":{"orient":"left","values":[1e6,1e7,1e8],"labels":false,"title":null,"tickSize":-5}}}},
{"mark":{"type":"point","opacity":0},"encoding":{
"x":{"field":"k","type":"quantitative","axis":null},
"y":{"field":"v","type":"quantitative","axis":{"orient":"left","values":[2e6,3e6,4e6,5e6,6e6,7e6,8e6,9e6,2e7,3e7,4e7,5e7,6e7,7e7,8e7,9e7],"labels":false,"title":null,"tickSize":-3}}}},
{"mark":{"type":"point","opacity":0},"encoding":{
"x":{"field":"k","type":"quantitative","axis":null},
"y":{"field":"v","type":"quantitative","axis":{"orient":"right","values":[2e6,3e6,4e6,5e6,6e6,7e6,8e6,9e6,2e7,3e7,4e7,5e7,6e7,7e7,8e7,9e7],"labels":false,"title":null,"tickSize":-3}}}}
],
"resolve":{"axis":{"x":"independent","y":"independent"}}},

{"width":242,"height":143,"title":"(h) LiveJournal","transform":[{"filter":"datum.p==='h'"}],
"layer":[
{"mark":{"type":"line","color":"black","strokeWidth":1},"encoding":{
"x":{"field":"k","type":"quantitative","scale":{"domain":[1,20000],"nice":false,"zero":false},"axis":{"orient":"bottom","values":[1,5000,10000,15000,20000],"format":"d","ticks":false,"labelPadding":11,"title":"number of seeds k","titlePadding":3}},
"y":{"field":"v","type":"quantitative","scale":{"type":"log","domain":[1e6,1e8],"nice":false},"axis":{"orient":"left","values":[1e6,1e7,1e8],"ticks":false,"labelPadding":5,"labelExpr":"'10'+['⁰','¹','²','³','⁴','⁵','⁶','⁷','⁸','⁹'][round(log(datum.value)/LN10)]","title":"number of RR sets","titleAngle":0,"titleAlign":"left","titleBaseline":"alphabetic","titleX":0,"titleY":-6}},
"detail":{"field":"s"}}},
{"mark":{"type":"point","filled":false,"color":"black","strokeWidth":1,"size":144,"opacity":1},"encoding":{
"x":{"field":"k","type":"quantitative","axis":{"orient":"top","values":[1,5000,10000,15000,20000],"labels":false,"title":null,"tickSize":-5}},
"y":{"field":"v","type":"quantitative","axis":{"orient":"right","values":[1e6,1e7,1e8],"labels":false,"title":null,"tickSize":-5}},
"shape":{"field":"s","type":"nominal","scale":{"domain":["D-SSA","IMM","IMM*","SSA","SSA-Fix"],"range":["M-1,-1H1V1H-1Z","M1.1,0A1.1,1.1 0 1 1 -1.1,0A1.1,1.1 0 1 1 1.1,0Z","M-0.9,-0.9L0.9,0.9M-0.9,0.9L0.9,-0.9","M0,-1.15L1.2,0.9H-1.2Z","M0,-1.2L1.2,0L0,1.2L-1.2,0Z"]},"legend":null}}},
{"mark":{"type":"point","opacity":0},"encoding":{
"x":{"field":"k","type":"quantitative","axis":{"orient":"bottom","values":[1,5000,10000,15000,20000],"labels":false,"title":null,"tickSize":-5}},
"y":{"field":"v","type":"quantitative","axis":{"orient":"left","values":[1e6,1e7,1e8],"labels":false,"title":null,"tickSize":-5}}}},
{"mark":{"type":"point","opacity":0},"encoding":{
"x":{"field":"k","type":"quantitative","axis":null},
"y":{"field":"v","type":"quantitative","axis":{"orient":"left","values":[2e6,3e6,4e6,5e6,6e6,7e6,8e6,9e6,2e7,3e7,4e7,5e7,6e7,7e7,8e7,9e7],"labels":false,"title":null,"tickSize":-3}}}},
{"mark":{"type":"point","opacity":0},"encoding":{
"x":{"field":"k","type":"quantitative","axis":null},
"y":{"field":"v","type":"quantitative","axis":{"orient":"right","values":[2e6,3e6,4e6,5e6,6e6,7e6,8e6,9e6,2e7,3e7,4e7,5e7,6e7,7e7,8e7,9e7],"labels":false,"title":null,"tickSize":-3}}}}
],
"resolve":{"axis":{"x":"independent","y":"independent"}}}
],
"config": {
"view": {"stroke": "black", "strokeWidth": 1.5},
"axis": {"labelFont": "Liberation Serif", "labelFontSize": 17, "labelColor": "black", "titleFont": "Liberation Serif", "titleFontSize": 16, "titleFontStyle": "italic", "titleFontWeight": "normal", "titleColor": "black", "domain": false, "grid": false, "tickColor": "black", "tickWidth": 1, "labelFlush": false, "labelOverlap": false},
"title": {"orient": "bottom", "font": "Liberation Sans", "fontSize": 18, "fontWeight": "normal", "color": "black", "offset": 19, "anchor": "middle"}
}
}
